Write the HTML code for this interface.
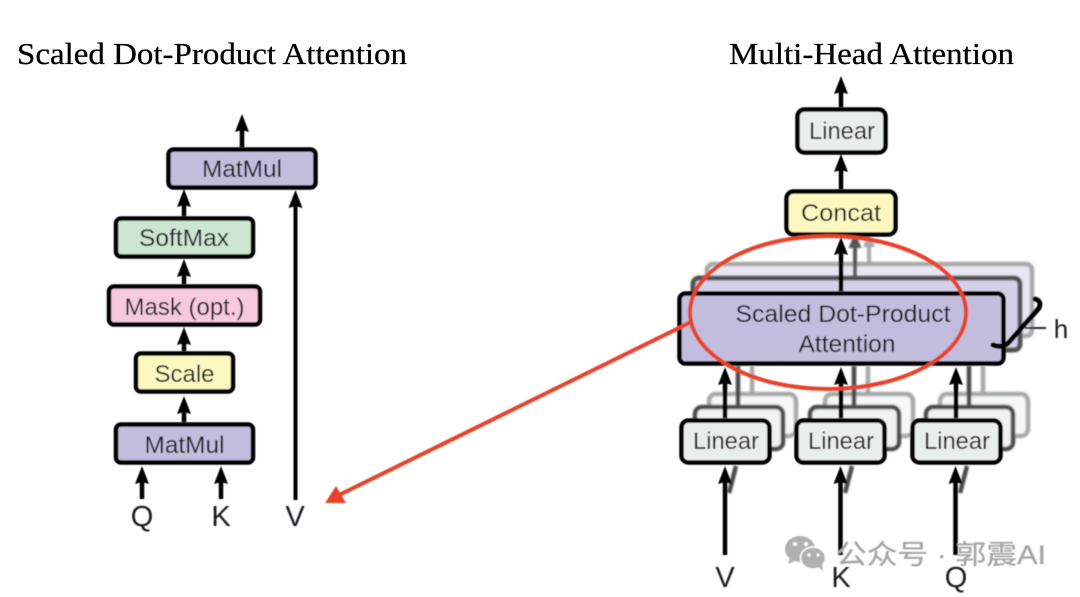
<!DOCTYPE html>
<html><head><meta charset="utf-8">
<style>
html,body{margin:0;padding:0;background:#fff;width:1080px;height:597px;overflow:hidden}
svg{display:block}
.t{font-family:"Liberation Sans","Noto Sans CJK SC",sans-serif;font-size:24px;fill:#1c1c24;text-anchor:middle}
.ti{font-family:"Liberation Serif",serif;font-size:31px;fill:#000;stroke:#000;stroke-width:.25}
</style></head><body>
<svg width="1080" height="597" viewBox="0 0 1080 597" xmlns="http://www.w3.org/2000/svg">
<defs>
<filter id="b" x="-5%" y="-5%" width="110%" height="110%"><feGaussianBlur stdDeviation="0.4"/></filter>
<filter id="b2" x="-5%" y="-5%" width="110%" height="110%"><feGaussianBlur stdDeviation="0.8"/></filter>
</defs>
<text class="ti" x="17" y="64" textLength="390" lengthAdjust="spacingAndGlyphs">Scaled Dot-Product Attention</text>
<text class="ti" x="729" y="64" textLength="285" lengthAdjust="spacingAndGlyphs">Multi-Head Attention</text>

<g filter="url(#b)">
<!-- left stack -->
<g stroke="#000" stroke-width="4.500" stroke-linejoin="round">
<rect x="168.500" y="149.500" width="147" height="38" rx="5" fill="#c2bcdd"/>
<rect x="116" y="218.500" width="137" height="38" rx="5" fill="#cde6d2"/>
<rect x="109" y="286.500" width="151" height="38" rx="5" fill="#f7c9de"/>
<rect x="136" y="353.500" width="97" height="38" rx="5" fill="#fdf8bf"/>
<rect x="116" y="424.500" width="137" height="38" rx="5" fill="#c2bcdd"/>
</g>
<g stroke="#000" stroke-width="4.500" fill="none">
<path d="M242 147V125M184 216V200M184 284V269M184 351V337M184 422V407M142 499V477M221 499V477"/>
<path d="M295.500 500V200" stroke-width="4"/>
</g>
<g fill="#000">
<path d="M242 114l-7 18l7-2l7 2z"/>
<path d="M184 189l-7 18l7-2l7 2z"/>
<path d="M184 259l-7 18l7-2l7 2z"/>
<path d="M184 327l-7 18l7-2l7 2z"/>
<path d="M184 396l-7 18l7-2l7 2z"/>
<path d="M142 466l-7 18l7-2l7 2z"/>
<path d="M221 466l-7 18l7-2l7 2z"/>
<path d="M295.500 190l-7 18l7-2l7 2z"/>
</g>
<text class="t" x="242" y="177" textLength="80" lengthAdjust="spacingAndGlyphs">MatMul</text>
<text class="t" x="184" y="246" textLength="90" lengthAdjust="spacingAndGlyphs">SoftMax</text>
<text class="t" x="184.500" y="315" textLength="120" lengthAdjust="spacingAndGlyphs">Mask (opt.)</text>
<text class="t" x="184.500" y="382" textLength="60" lengthAdjust="spacingAndGlyphs">Scale</text>
<text class="t" x="184.500" y="453" textLength="80" lengthAdjust="spacingAndGlyphs">MatMul</text>
<text class="t" x="142" y="526" style="font-size:29px">Q</text>
<text class="t" x="221" y="526" style="font-size:29px">K</text>
<text class="t" x="295" y="526" style="font-size:29px">V</text>

<!-- right: back layers -->
<g filter="url(#b2)">
<rect x="707" y="264" width="325" height="72" rx="6" fill="#e8e6f2" stroke="#a8a8a8" stroke-width="4.500"/>
<rect x="693" y="278" width="327" height="72" rx="6" fill="#d4d0e8" stroke="#505050" stroke-width="5"/>
<path d="M869 263V245" stroke="#a8a8a8" stroke-width="4"/>
<path d="M855 277V245" stroke="#555" stroke-width="4"/>
<path d="M869 232l-6 15h12z" fill="#a8a8a8"/>
<path d="M855 232l-6.500 16h13z" fill="#555"/>
<g fill="#f5f8f7" stroke="#a8a8a8" stroke-width="4.500">
<rect x="709" y="394" width="87" height="42" rx="7"/>
<rect x="825" y="394" width="88" height="42" rx="7"/>
<rect x="940" y="394" width="88" height="42" rx="7"/>
</g>
<g fill="#eef2f1" stroke="#4a4a4a" stroke-width="4.500">
<rect x="695" y="407" width="88" height="42" rx="7"/>
<rect x="810" y="407" width="89" height="42" rx="7"/>
<rect x="926" y="407" width="87" height="42" rx="7"/>
</g>
<g stroke="#a8a8a8" stroke-width="4.500" fill="none">
<path d="M752 366V392M868 366V392M983 366V392"/>
</g>
<g stroke="#4a4a4a" stroke-width="4.500" fill="none">
<path d="M738 366V405M854 366V405M969 366V405"/>
<path d="M729 493L736 466M845 493L852 466M960 493L967 466"/>
</g>
</g>

<!-- right: front -->
<g stroke="#000" stroke-width="4.500" stroke-linejoin="round">
<rect x="797.500" y="109.500" width="88" height="43" rx="7" fill="#e8eeec"/>
<rect x="786.500" y="191.500" width="109" height="43" rx="7" fill="#fdf8bf"/>
<rect x="679.500" y="293.500" width="324" height="70" rx="6" fill="#c2bcdd"/>
<rect x="681.500" y="420.500" width="88" height="42" rx="7" fill="#e8eeec"/>
<rect x="796.500" y="420.500" width="88" height="42" rx="7" fill="#e8eeec"/>
<rect x="912.500" y="420.500" width="88" height="42" rx="7" fill="#e8eeec"/>
</g>
<g stroke="#000" stroke-width="4.500" fill="none">
<path d="M841 107V88M841 189V163M841 291V245M725 418V378M841 418V378M956 418V378"/>
<path d="M725 555V478M840.500 555V478M955.500 555V478"/>
</g>
<g fill="#000">
<path d="M841 76l-7 18l7-2l7 2z"/>
<path d="M841 154l-7 18l7-2l7 2z"/>
<path d="M841 237l-7 18l7-2l7 2z"/>
<path d="M725 367l-7 18l7-2l7 2z"/>
<path d="M841 367l-7 18l7-2l7 2z"/>
<path d="M956 367l-7 18l7-2l7 2z"/>
<path d="M725 466l-7 18l7-2l7 2z"/>
<path d="M840.500 466l-7 18l7-2l7 2z"/>
<path d="M955.500 466l-7 18l7-2l7 2z"/>
</g>
<path d="M1035 299Q1042 301 1039 308L1010 341Q1004 349 993 345" fill="none" stroke="#000" stroke-width="5" stroke-linecap="round"/>
<path d="M1025 328H1046" stroke="#111" stroke-width="1.800"/>
<text class="t" x="1061" y="338" style="font-size:26px">h</text>
<text class="t" x="842" y="139" textLength="66" lengthAdjust="spacingAndGlyphs">Linear</text>
<text class="t" x="841" y="221" textLength="80" lengthAdjust="spacingAndGlyphs">Concat</text>
<text class="t" x="843" y="322" textLength="215" lengthAdjust="spacingAndGlyphs">Scaled Dot-Product</text>
<text class="t" x="847" y="352" textLength="97" lengthAdjust="spacingAndGlyphs">Attention</text>
<text class="t" x="726" y="449" textLength="66" lengthAdjust="spacingAndGlyphs">Linear</text>
<text class="t" x="841" y="449" textLength="66" lengthAdjust="spacingAndGlyphs">Linear</text>
<text class="t" x="957" y="449" textLength="66" lengthAdjust="spacingAndGlyphs">Linear</text>
<text class="t" x="725" y="587" style="font-size:29px">V</text>
<text class="t" x="841" y="587" style="font-size:29px">K</text>
<text class="t" x="956" y="587" style="font-size:29px">Q</text>

<!-- red annotation -->
<ellipse cx="828" cy="312.500" rx="138" ry="76.500" fill="none" stroke="#e8432a" stroke-width="4"/>
<path d="M691 322L335 497" stroke="#e8432a" stroke-width="4" fill="none"/>
<path d="M325 503L336 486L346 503z" fill="#e8432a"/>

<!-- watermark -->
<g fill="#b0b0b0">
<ellipse cx="800" cy="549" rx="15" ry="13"/>
<path d="M790 557l-2 7l9-4z"/>
<ellipse cx="813" cy="558" rx="12.500" ry="11" stroke="#fff" stroke-width="1.500"/>
<path d="M818 567l5 4l-1-7z"/>
</g>
<g fill="#fff"><circle cx="795" cy="544" r="2"/><circle cx="806" cy="544" r="2"/><circle cx="809" cy="555" r="1.600"/><circle cx="818" cy="555" r="1.600"/></g>
<text x="836" y="564" style="font-family:'Liberation Sans','Noto Sans CJK SC',sans-serif;font-size:27px;fill:#a6a6a6;stroke:#a6a6a6;stroke-width:.3" textLength="210" lengthAdjust="spacingAndGlyphs">公众号 · 郭震AI</text>
</g>
</svg>
</body></html>
